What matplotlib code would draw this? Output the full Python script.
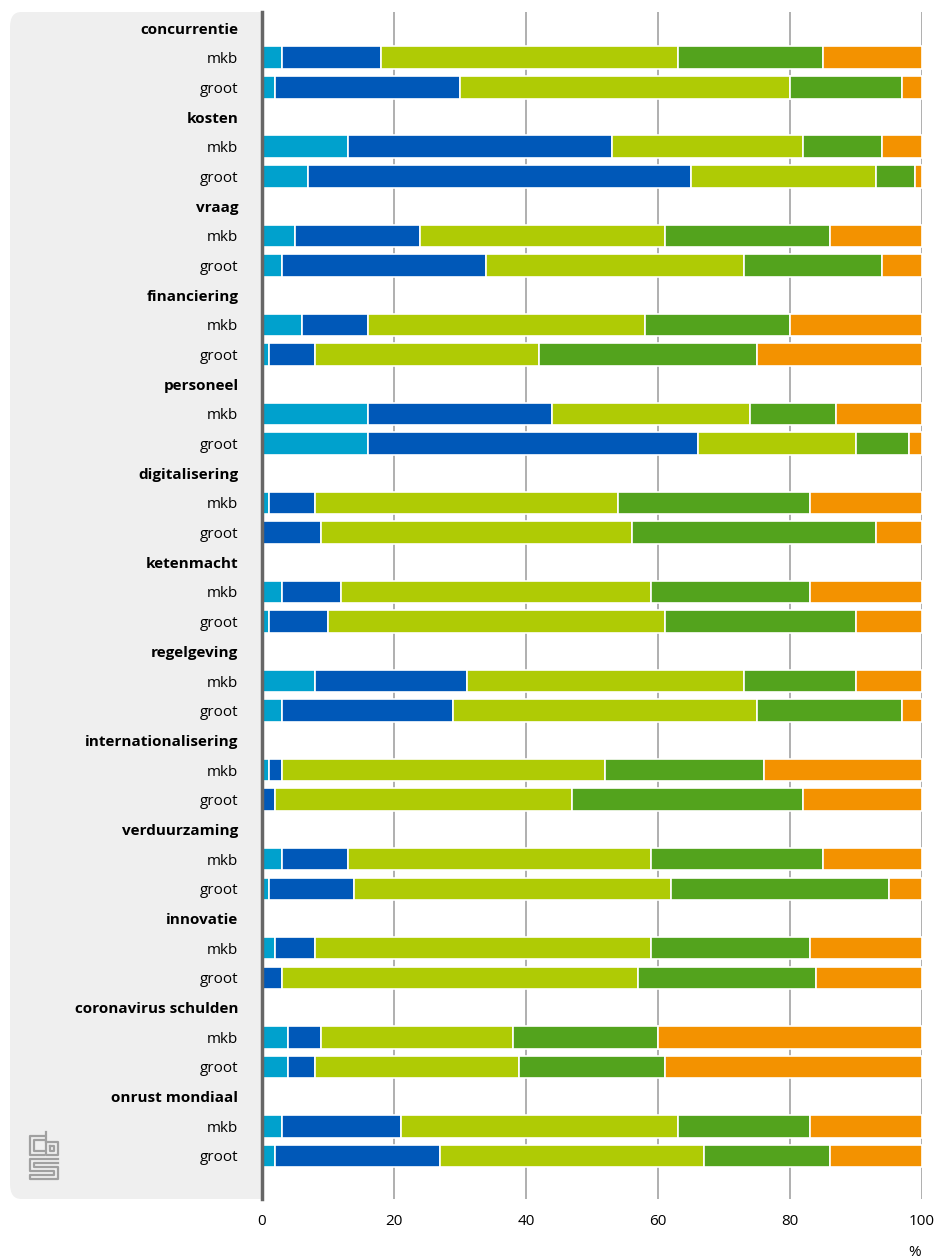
import matplotlib.pyplot as plt
from matplotlib.patches import FancyBboxPatch
from matplotlib.lines import Line2D
import numpy as np

plt.rcParams['font.family'] = ['Open Sans', 'DejaVu Sans']

categories = ['concurrentie', 'kosten', 'vraag', 'financiering', 'personeel',
              'digitalisering', 'ketenmacht', 'regelgeving', 'internationalisering',
              'verduurzaming', 'innovatie', 'coronavirus schulden', 'onrust mondiaal']
sizes = ['mkb', 'groot']

# five answer classes per row (mkb, groot) for each category, in %
s1 = [3, 2,  13, 7,  5, 3,  6, 1,  16, 16,  1, 0,  3, 1,  8, 3,  1, 0,  3, 1,  2, 0,  4, 4,  3, 2]
s2 = [15, 28,  40, 58,  19, 31,  10, 7,  28, 50,  7, 9,  9, 9,  23, 26,  2, 2,  10, 13,  6, 3,  5, 4,  18, 25]
s3 = [45, 50,  29, 28,  37, 39,  42, 34,  30, 24,  46, 47,  47, 51,  42, 46,  49, 45,  46, 48,  51, 54,  29, 31,  42, 40]
s4 = [22, 17,  12, 6,  25, 21,  22, 33,  13, 8,  29, 37,  24, 29,  17, 22,  24, 35,  26, 33,  24, 27,  22, 22,  20, 19]
s5 = [15, 3,  6, 1,  14, 6,  20, 25,  13, 2,  17, 7,  17, 10,  10, 3,  24, 18,  15, 5,  17, 16,  40, 39,  17, 14]
colors = ['#00a1cd', '#0058b8', '#afcb05', '#53a31d', '#f39200']

labels, is_head, ypos, bar_y = [], [], [], []
row = 0
for c in categories:
    labels.append(c); is_head.append(True); ypos.append(row); row += 1
    for s in sizes:
        labels.append(s); is_head.append(False); ypos.append(row); bar_y.append(row); row += 1

fig = plt.figure(figsize=(9.39, 12.6), dpi=100)
W, H = 939, 1260
ax = fig.add_axes([262 / W, 1 - 1199 / H, 660 / W, (1199 - 12) / H])

# grey panel behind the labels
panel = FancyBboxPatch((10 / W, 1 - 1199 / H), 280 / W, (1199 - 12) / H,
                       boxstyle='round,pad=0,rounding_size=0.012',
                       transform=fig.transFigure, facecolor='#efefef',
                       edgecolor='none', zorder=-5)
fig.patches.append(panel)

left = np.zeros(len(bar_y))
for vals, col in zip([s1, s2, s3, s4, s5], colors):
    v = np.array(vals, dtype=float)
    ax.barh(bar_y, v, left=left, height=0.76, color=col,
            edgecolor='white', linewidth=1.2, zorder=3)
    left += v

ax.set_xlim(0, 100)
ax.set_ylim(row - 1 + 1.45, -0.54)
ax.set_xticks([0, 20, 40, 60, 80, 100])
ax.set_xticklabels(['0', '20', '40', '60', '80', '100'], fontsize=11)
ax.tick_params(axis='x', length=0, pad=11)
ax.set_yticks(ypos)
ax.set_yticklabels(labels, fontsize=11)
for t, h in zip(ax.get_yticklabels(), is_head):
    if h:
        t.set_fontweight('bold')
ax.tick_params(axis='y', length=0, pad=17)

ax.grid(axis='x', color='#9a9a9a', linewidth=1.1, zorder=0)
ax.set_axisbelow(True)
for sp in ['top', 'right', 'bottom']:
    ax.spines[sp].set_visible(False)
ax.spines['left'].set_color('#666666')
ax.spines['left'].set_linewidth(2.5)
ax.spines['left'].set_zorder(5)

fig.text(915 / W, 1 - 1252 / H, '%', fontsize=11, ha='center', va='center')

# simple cbs logo
def px(x, y):
    return x / W, 1 - y / H
logo = [
    [(44, 1136), (30, 1136), (30, 1155), (44, 1155)],
    [(44, 1140), (34, 1140), (34, 1151), (44, 1151)],
    [(46, 1132), (46, 1155), (58, 1155), (58, 1142), (46, 1142)],
    [(50, 1146), (54, 1146), (54, 1151), (50, 1151), (50, 1146)],
    [(58, 1159), (30, 1159), (30, 1171), (54, 1171), (54, 1175), (30, 1175), (30, 1179), (58, 1179), (58, 1167), (34, 1167), (34, 1163), (58, 1163)],
]
for pts in logo:
    xs, ys = zip(*[px(a, b) for a, b in pts])
    fig.add_artist(Line2D(xs, ys, transform=fig.transFigure, color='#a0a0a0', linewidth=1.6))

fig.savefig('out.png', dpi=100)
